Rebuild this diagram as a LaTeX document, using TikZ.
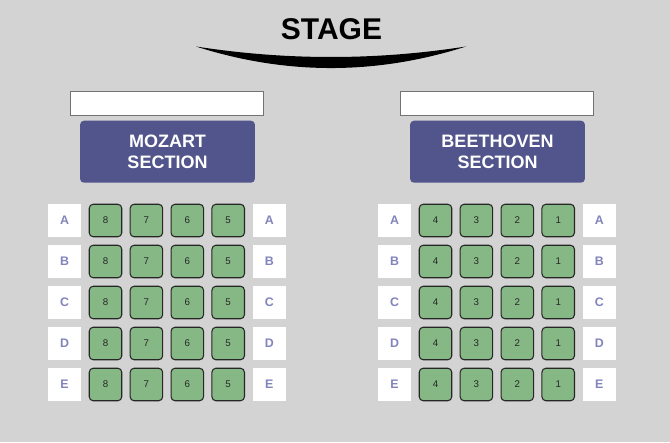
\documentclass[tikz,border=0pt]{standalone}
\usepackage{fontspec}
\setmainfont{Liberation Sans}
\begin{document}
\begin{tikzpicture}[x=0.75pt,y=-0.75pt,
  seat/.style={draw=black!85,fill=seatgreen,rounded corners=3pt,line width=0.8pt,minimum width=24.4pt,minimum height=24.4pt,inner sep=0pt,font=\fontsize{7.3}{8}\selectfont,text=black!85},
  rowlbl/.style={fill=white,minimum width=24.75pt,minimum height=24.75pt,inner sep=0pt,font=\bfseries\fontsize{9.3}{10}\selectfont,text=lblblue},
  namebox/.style={draw=gray!90!black,fill=white,line width=0.7pt,minimum width=144.5pt,minimum height=18.3pt,inner sep=0pt},
  secbox/.style={fill=secpurple,rounded corners=3pt,minimum width=131.2pt,minimum height=46.5pt,inner sep=0pt,align=center,text=white,font=\bfseries\fontsize{13.5}{15.5}\selectfont}]
\definecolor{bg}{HTML}{D3D3D3}
\definecolor{seatgreen}{HTML}{86B886}
\definecolor{lblblue}{HTML}{8284BC}
\definecolor{secpurple}{HTML}{52548C}
\fill[bg] (0,0) rectangle (670,442);
\useasboundingbox (0,0) rectangle (670,442);
\node[font=\bfseries\fontsize{22.5}{24}\selectfont] (stage) at (331.5,29.5) {STAGE};
\fill[black] (196,46.5) .. controls (286,60.5) and (376,60.5) .. (466,46.5)
   .. controls (376,75.2) and (286,75.2) .. (196,46.5);
\node[namebox] (mname) at (167,103.3) {};
\node[secbox] (msec) at (167.5,151.7) {MOZART\\SECTION};
\node[namebox] (bname) at (497,103.3) {};
\node[secbox] (bsec) at (497.5,151.7) {BEETHOVEN\\SECTION};
\foreach \r [count=\i from 0] in {A,B,C,D,E} {
  \pgfmathsetmacro{\yy}{220.5+41*\i}
  \node[rowlbl] (ml\r) at (64.5,\yy) {\r};
  \node[rowlbl] (mr\r) at (269.3,\yy) {\r};
  \node[rowlbl] (bl\r) at (394.5,\yy) {\r};
  \node[rowlbl] (br\r) at (599.3,\yy) {\r};
  \foreach \n [count=\j from 0] in {8,7,6,5} {
    \node[seat] (m\r\n) at (105.5+40.9*\j,\yy) {\n};
  }
  \foreach \n [count=\j from 0] in {4,3,2,1} {
    \node[seat] (b\r\n) at (435.5+40.9*\j,\yy) {\n};
  }
}
\end{tikzpicture}
\end{document}
